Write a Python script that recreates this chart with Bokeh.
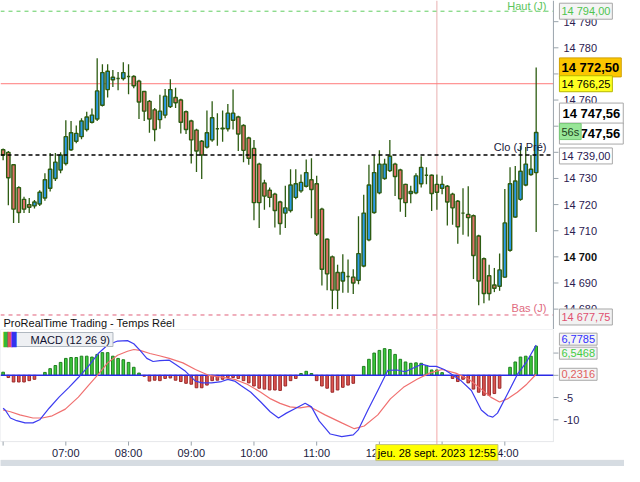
import numpy as np
from bokeh.plotting import figure
from bokeh.models import Range1d, Span, Label, BoxAnnotation
from bokeh.layouts import column
from bokeh.embed import file_html
from bokeh.resources import INLINE

# ---------------- data (5-minute candles from 06:00) ----------------
opens = [14741.0, 14740.0, 14735.25, 14726.5, 14722.0, 14720.0, 14719.5, 14720.25, 14722.5, 14726.25,
         14730.0, 14733.25, 14735.75, 14741.0, 14744.25, 14746.0, 14748.75, 14751.5, 14752.75, 14758.0,
         14764.0, 14767.75, 14768.25, 14768.25, 14769.0, 14769.0, 14767.25, 14763.25, 14759.5, 14756.25,
         14752.5, 14754.25, 14757.5, 14761.0, 14760.0, 14755.5, 14752.0, 14748.5, 14744.25, 14742.0,
         14744.75, 14749.0, 14749.0, 14749.0, 14752.25, 14753.5, 14750.25, 14745.5, 14741.5, 14735.5,
         14728.25, 14725.5, 14724.0, 14721.0, 14716.75, 14717.75, 14722.75, 14725.25, 14727.0, 14729.5,
         14728.0, 14718.25, 14706.75, 14700.0, 14694.0, 14690.75, 14692.5, 14692.25, 14691.0, 14696.5,
         14706.5, 14717.0, 14724.5, 14730.0, 14733.0, 14735.5, 14733.25, 14727.75, 14724.25, 14724.5,
         14728.0, 14731.25, 14731.25, 14727.75, 14726.25, 14727.0, 14724.0, 14721.25, 14716.75, 14716.25,
         14715.75, 14708.0, 14699.25, 14692.75, 14689.25, 14688.75, 14692.25, 14702.5, 14715.25, 14722.0,
         14727.5, 14731.5, 14732.25]
highs = [14741.5, 14740.5, 14735.5, 14727.0, 14723.0, 14722.5, 14721.75, 14725.5, 14732.0, 14739.75,
         14739.75, 14740.0, 14752.25, 14752.0, 14750.25, 14753.0, 14755.5, 14756.75, 14776.0, 14773.75,
         14773.75, 14771.5, 14770.75, 14774.5, 14773.75, 14769.5, 14767.75, 14763.5, 14760.0, 14757.0,
         14762.0, 14764.25, 14768.0, 14764.75, 14760.5, 14756.0, 14752.5, 14749.0, 14744.75, 14756.0,
         14759.5, 14755.0, 14756.0, 14758.5, 14764.0, 14754.0, 14750.75, 14746.0, 14744.75, 14736.0,
         14729.5, 14726.5, 14724.5, 14721.5, 14727.25, 14733.5, 14733.5, 14731.5, 14737.25, 14737.75,
         14731.0, 14718.75, 14707.0, 14700.5, 14697.0, 14701.0, 14699.0, 14695.25, 14715.5, 14723.75,
         14735.25, 14738.75, 14740.75, 14737.5, 14744.75, 14736.0, 14733.75, 14728.0, 14727.25, 14732.0,
         14738.5, 14734.25, 14731.5, 14731.5, 14731.0, 14727.5, 14724.5, 14721.75, 14726.25, 14727.0,
         14716.25, 14708.5, 14699.75, 14697.0, 14695.75, 14701.25, 14726.0, 14734.25, 14734.75, 14742.5,
         14742.0, 14739.0, 14772.5]
lows = [14737.0, 14719.75, 14713.0, 14713.0, 14716.75, 14716.75, 14718.5, 14719.5, 14721.5, 14725.0,
        14729.0, 14732.0, 14735.0, 14740.5, 14743.5, 14745.0, 14748.0, 14751.0, 14752.0, 14757.5,
        14761.0, 14765.0, 14763.75, 14767.5, 14762.25, 14764.5, 14752.75, 14752.0, 14747.5, 14744.25,
        14749.0, 14753.0, 14757.0, 14757.0, 14747.25, 14747.0, 14735.75, 14732.5, 14729.75, 14741.5,
        14744.0, 14742.5, 14744.0, 14748.0, 14748.75, 14740.5, 14736.25, 14735.25, 14714.0, 14711.0,
        14718.0, 14719.0, 14711.25, 14708.5, 14711.0, 14717.0, 14722.0, 14724.5, 14726.5, 14714.75,
        14708.0, 14689.0, 14687.25, 14680.0, 14680.0, 14686.25, 14686.25, 14685.75, 14689.5, 14696.0,
        14706.0, 14716.5, 14724.0, 14729.5, 14732.5, 14723.25, 14717.25, 14715.25, 14720.5, 14724.0,
        14726.5, 14727.75, 14717.5, 14718.0, 14724.0, 14712.0, 14712.25, 14705.0, 14708.5, 14707.75,
        14691.5, 14681.5, 14682.25, 14683.25, 14686.5, 14687.0, 14692.0, 14702.0, 14715.0, 14721.5,
        14727.0, 14731.0, 14709.5]
closes = [14739.0, 14730.25, 14718.25, 14717.0, 14718.25, 14719.0, 14721.0, 14724.75, 14729.5, 14733.5,
          14736.25, 14739.0, 14746.0, 14747.5, 14747.25, 14752.0, 14753.5, 14754.25, 14763.5, 14770.5,
          14771.0, 14768.75, 14768.25, 14770.5, 14769.0, 14765.5, 14759.25, 14755.75, 14752.75, 14748.75,
          14755.75, 14761.5, 14764.0, 14759.0, 14751.5, 14748.75, 14744.75, 14740.5, 14739.0, 14747.5,
          14753.25, 14749.0, 14749.25, 14755.0, 14755.0, 14747.0, 14740.75, 14737.75, 14720.75, 14720.75,
          14723.25, 14722.75, 14717.75, 14712.75, 14718.75, 14727.5, 14728.0, 14728.5, 14732.25, 14725.75,
          14708.75, 14695.25, 14693.5, 14687.25, 14687.25, 14694.0, 14692.5, 14690.0, 14701.25, 14716.75,
          14727.5, 14732.25, 14735.5, 14735.5, 14738.5, 14730.75, 14722.25, 14720.75, 14725.0, 14731.0,
          14734.25, 14731.25, 14724.25, 14724.75, 14727.75, 14721.0, 14718.75, 14711.5, 14716.75, 14715.0,
          14700.5, 14690.75, 14686.0, 14686.0, 14688.0, 14695.0, 14713.0, 14728.0, 14729.0, 14732.75,
          14735.5, 14733.5, 14747.56]

# MACD histogram, one value per candle
hist = [0.7, -0.5, -1.5, -1.5, -1.5, -1.2, -0.9, 0.0, 0.65, 1.5,
        2.2, 2.9, 3.8, 4.0, 4.0, 4.3, 4.3, 4.1, 4.7, 5.1,
        5.1, 4.3, 3.8, 3.5, 2.9, 1.8, 0.5, -0.2, -1.3, -1.1,
        -1.2, -0.7, -0.6, -1.1, -1.4, -1.8, -2.0, -2.8, -2.8, -2.2,
        -1.2, -1.1, -0.9, -0.5, -0.5, -0.7, -1.2, -1.7, -2.4, -2.9,
        -3.1, -3.3, -3.3, -3.4, -2.4, -1.2, -0.7, 0.4, 0.9, 0.4,
        -1.2, -2.4, -2.9, -3.8, -3.3, -2.7, -2.2, -1.8, 0.0, 2.0,
        3.6, 5.0, 5.6, 6.0, 5.8, 4.7, 3.6, 3.0, 2.7, 2.8,
        2.7, 2.2, 1.2, 1.2, 0.6, 0.0, -0.7, -1.4, -0.9, -1.7,
        -3.1, -3.8, -4.5, -4.5, -4.1, -2.9, 0.0, 1.8, 3.0, 4.1,
        4.3, 4.3, 6.5468]

# MACD line (read at candle positions)
macd_idx = [0, 0.4, 1.4, 2.6, 4.2, 5.7, 7.0, 8.8, 10.7, 12.6,
            14.4, 16.3, 18.2, 20.0, 21.9, 23.8, 25.0, 26.2, 27.5, 28.7,
            30.0, 31.8, 33.1, 34.9, 36.8, 38.1, 39.9, 41.8, 43.0, 44.3,
            45.5, 47.4, 49.3, 51.1, 52.7, 54.2, 56.0, 57.8, 59.0, 60.5,
            61.6, 62.6, 64.8, 67.0, 68.0, 69.8, 71.7, 73.6, 75.4, 76.9,
            78.4, 80.1, 81.6, 82.9, 84.4, 85.9, 87.7, 89.6, 91.5, 92.8,
            93.7, 94.6, 96.5, 98.4, 100.2, 102]
macd_val = [-7.4, -7.8, -9.6, -10.2, -10.7, -10.7, -10.0, -7.4, -4.9, -2.7,
            -0.5, 2.0, 4.9, 6.8, 7.7, 7.8, 7.1, 5.6, 3.8, 3.1,
            3.3, 3.4, 2.4, 0.9, -1.3, -1.7, -1.7, -1.4, -0.9, -1.3,
            -2.3, -3.8, -6.0, -8.2, -9.6, -8.5, -7.4, -6.3, -7.1, -10.3,
            -11.8, -13.2, -13.8, -13.4, -12.2, -7.8, -3.4, 1.1, 1.2, 0.8,
            1.6, 2.5, 2.0, 2.0, 1.3, 0.2, -1.3, -3.4, -7.8, -9.1,
            -9.4, -8.5, -4.2, 0.2, 3.1, 6.7785]
# signal line
sig_idx = [0, 1.4, 3.2, 5.7, 7.5, 9.4, 11.9, 14.4, 16.3, 18.2,
           20.0, 21.9, 23.8, 25.0, 26.2, 28.1, 29.9, 31.8, 34.4, 36.8,
           39.3, 41.8, 44.3, 46.7, 49.3, 51.2, 53.0, 54.9, 56.8, 58.6,
           61.6, 64.8, 67.2, 69.1, 71.7, 74.1, 76.6, 79.2, 81.6, 84.0,
           86.6, 89.1, 91.5, 93.3, 95.0, 96.5, 98.4, 100.2, 102]
sig_val = [-7.8, -8.2, -8.9, -9.6, -9.6, -9.1, -7.6, -4.9, -2.3, 0.2,
           2.8, 4.5, 5.4, 5.8, 5.6, 4.9, 4.4, 3.8, 2.8, 1.3,
           0.0, -0.4, -0.9, -2.0, -3.8, -5.3, -6.3, -7.1, -7.3, -7.0,
           -8.9, -10.7, -12.0, -11.4, -8.9, -5.3, -2.7, -0.9, 0.5, 1.3,
           0.5, -0.9, -3.1, -4.9, -6.0, -5.3, -3.8, -2.0, 0.2316]

hour_labels = ["06:00", "07:00", "08:00", "09:00", "10:00", "11:00", "12:00", "13:00", "14:00"]
bars_per_hour = 12
price_ticks = [14680, 14690, 14700, 14710, 14720, 14730, 14740, 14750, 14760, 14770, 14780, 14790]
bold_tick = 14700
macd_ticks = [-10, -5, 0, 5]

haut_j = 14794.00
bas_j = 14677.75
clo_j = 14739.00
level_red = 14766.25
level_gold = 14772.50
cursor_idx = 83
cursor_text = "jeu. 28 sept. 2023 12:55"
countdown = "56s"

FONT = "Liberation Sans"
AXIS_GRAY = "#9aa4ac"
TICK_TXT = "#2a2050"


def fmt(v, nd=2):
    return f"{v:,.{nd}f}".replace(",", " ").replace(".", ",")


idx = np.arange(len(opens))
o = np.array(opens)
c = np.array(closes)
up = c >= o
top = np.maximum(o, c)
bot = np.minimum(o, c)

# x in candle units; the price scale sits at AXIS_X, the frame runs on to the page edge
xr = Range1d(-0.5, 118.9)
AXIS_X = 105.3
MACD_BOTTOM = -14.9
STATUS_BAR_TOP = -19.1


def lab(fig, x, y, text, color, xo=0, yo=0, align="left", size="11px", bold=False,
        bg=None, border=None, pad=2, base="middle"):
    fig.add_layout(Label(x=x, y=y, text=text, x_offset=xo, y_offset=yo,
                         text_color=color, text_font=FONT, text_font_size=size,
                         text_font_style="bold" if bold else "normal",
                         text_align=align, text_baseline=base,
                         background_fill_color=bg, border_line_color=border,
                         padding=pad))


def hline(fig, level, color, width=1.0, dash="solid"):
    fig.segment(x0=[xr.start], y0=[level], x1=[AXIS_X], y1=[level],
                line_color=color, line_width=width, line_dash=dash)


def price_scale(fig, ticks, labels, bold_value=None):
    fig.add_layout(Span(location=AXIS_X, dimension="height", line_color=AXIS_GRAY, line_width=1))
    fig.ray(x=[AXIS_X] * len(ticks), y=ticks, length=5, length_units="screen", angle=0,
            line_color=AXIS_GRAY, line_width=1)
    for t, s in zip(ticks, labels):
        lab(fig, AXIS_X, t, s, "#101010" if t == bold_value else TICK_TXT, xo=8,
            bold=(t == bold_value))


# ---------------- price panel ----------------
p = figure(width=624, height=329, x_range=xr, y_range=Range1d(14672.2, 14798.1),
           x_axis_location=None, y_axis_location=None,
           output_backend="svg", toolbar_location=None,
           min_border_left=0, min_border_right=0, min_border_top=0, min_border_bottom=0)
p.outline_line_color = None
p.grid.visible = False

p.add_layout(Span(location=cursor_idx, dimension="height", line_color="#e8b0b0",
                  line_width=1, level="underlay"))

price_scale(p, price_ticks, [fmt(t, 0) for t in price_ticks], bold_tick)

hline(p, haut_j, "#5fcc5f", 1.0, "4 4")
hline(p, level_red, "#ff7a7a", 1.0)
hline(p, bas_j, "#e0607a", 1.0, "4 4")

p.segment(idx, lows, idx, highs, line_color="#2d5c12", line_width=1.3)
p.vbar(x=idx[up], bottom=bot[up], top=top[up], width=0.64, fill_color="#2b9be8",
       line_color="#2d5c12", line_width=1.4)
p.vbar(x=idx[~up], bottom=bot[~up], top=top[~up], width=0.64, fill_color="#e2716a",
       line_color="#2d5c12", line_width=1.4)

hline(p, clo_j, "#000000", 1.4, "4 3")

lab(p, AXIS_X, haut_j, "Haut (J)", "#5cc45c", xo=-5, yo=5, align="right")
lab(p, AXIS_X, clo_j, "Clo (J Pré)", "#1a1a3a", xo=-5, yo=8, align="right")
lab(p, AXIS_X, bas_j, "Bas (J)", "#e06a80", xo=-5, yo=7, align="right")
lab(p, xr.start, p.y_range.start, "ProRealTime Trading - Temps Réel", "#101010", xo=1, yo=7)

# right-side value boxes
lab(p, AXIS_X, haut_j, fmt(haut_j), "#4fc44f", xo=6, bg="#f4f4f4", border="#a8a8a8")
lab(p, AXIS_X, level_gold, fmt(level_gold), "#000000", xo=6, size="13px", bold=True,
    bg="#fcc600", border="#d0a000")
lab(p, AXIS_X, level_red, fmt(level_red), "#000000", xo=6, bg="#ffff22", border="#b8b800")
lab(p, AXIS_X, closes[-1], fmt(closes[-1]), "#000000", xo=6, yo=19, size="13px", bold=True,
    bg="#ffffff", border="#a8a8a8", pad=3)
lab(p, AXIS_X, closes[-1], fmt(closes[-1]), "#000000", xo=6, yo=-1, size="13px", bold=True,
    bg="#ffffff", border="#a8a8a8", pad=3)
lab(p, AXIS_X, closes[-1], countdown, "#204020", xo=6, yo=1, bg="#98e698", border="#78c878")
lab(p, AXIS_X, clo_j, fmt(clo_j), TICK_TXT, xo=6, yo=-1, bg="#ffffff", border="#a8a8a8")
lab(p, AXIS_X, bas_j, fmt(bas_j), "#e05070", xo=6, yo=-2, bg="#f2f2f2", border="#a8a8a8")

# ---------------- MACD panel ----------------
m = figure(width=624, height=137, x_range=xr, y_range=Range1d(-20.5, 10.3),
           x_axis_location=None, y_axis_location=None,
           output_backend="svg", toolbar_location=None,
           min_border_left=0, min_border_right=0, min_border_top=0, min_border_bottom=0)
m.outline_line_color = None
m.grid.visible = False

m.add_layout(Span(location=cursor_idx, dimension="height", line_color="#f2a8a8",
                  line_width=1, level="underlay"))

# panel frame (top separator, bottom time axis line, right price-scale line)
m.add_layout(BoxAnnotation(left=xr.start, right=AXIS_X, bottom=MACD_BOTTOM, top=m.y_range.end,
                           fill_alpha=0, line_color="#a8b0b8", line_width=1))
m.ray(x=[AXIS_X] * len(macd_ticks), y=macd_ticks, length=5, length_units="screen", angle=0,
      line_color=AXIS_GRAY, line_width=1)
for t in macd_ticks:
    lab(m, AXIS_X, t, str(t), TICK_TXT, xo=8)

# application status bar at the bottom of the window
m.add_layout(BoxAnnotation(top=STATUS_BAR_TOP, fill_color="#d6dce2", fill_alpha=1,
                           line_color="#b8c0c8", line_width=1))

# time axis
hour_pos = [k * bars_per_hour for k in range(len(hour_labels))]
m.ray(x=hour_pos, y=[MACD_BOTTOM] * len(hour_pos), length=4, length_units="screen",
      angle=-np.pi / 2, line_color=AXIS_GRAY, line_width=1)
for k, (hp, hl) in enumerate(zip(hour_pos, hour_labels)):
    if k > 0:
        lab(m, hp, MACD_BOTTOM, hl, "#1a1a40", yo=-11, align="center")

h = np.array(hist)
pos = h > 0.05
neg = h < -0.05
m.vbar(x=idx[pos], bottom=0, top=h[pos], width=0.5, fill_color="#3dcc3d",
       line_color="#1f7f1f", line_width=1)
m.vbar(x=idx[neg], bottom=h[neg], top=0, width=0.5, fill_color="#dd5550",
       line_color="#9a2a2a", line_width=1)
hline(m, 0, "#2a2ae6", 1.5)
m.line(sig_idx, sig_val, line_color="#f07070", line_width=1.2)
m.line(macd_idx, macd_val, line_color="#3c3cf0", line_width=1.2)

# legend box
lab(m, xr.start, m.y_range.end, "MACD (12 26 9)", "#101030", xo=15, yo=-10,
    bg="#eef0f3", border="#b0b8c0", pad=dict(left=15, right=3, top=1, bottom=1))
for k, col in enumerate(["#33bb33", "#dd5555", "#3333ee"]):
    m.add_layout(Label(x=xr.start, y=m.y_range.end, text="\u258c", x_offset=3 + 4 * k, y_offset=-10,
                       text_color=col, text_font="DejaVu Sans", text_font_size="13px",
                       text_baseline="middle"))

# right-side MACD value boxes
lab(m, AXIS_X, macd_val[-1], fmt(macd_val[-1], 4), "#3030ff", xo=6, yo=6, bg="#f4f4f4", border="#a8a8a8")
lab(m, AXIS_X, hist[-1], fmt(hist[-1], 4), "#44cc44", xo=6, yo=-7, bg="#f4f4f4", border="#a8a8a8")
lab(m, AXIS_X, sig_val[-1], fmt(sig_val[-1], 4), "#e06060", xo=6, bg="#f4f4f4", border="#a8a8a8")

# cursor date box on the time axis
lab(m, cursor_idx, MACD_BOTTOM, cursor_text, "#000000", yo=-11, align="center",
    bg="#ffff00", border="#c0c080")

layout = column(p, m, spacing=0)
open("out.html", "w").write(file_html(layout, INLINE))
